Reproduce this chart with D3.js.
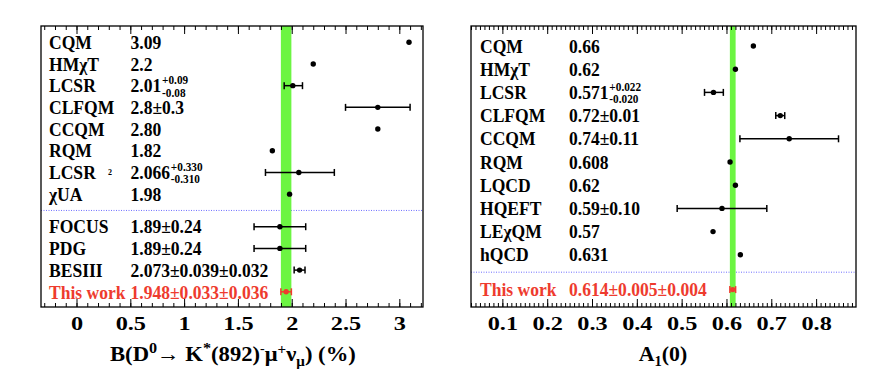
<!DOCTYPE html>
<html>
<head>
<meta charset="utf-8">
<script src="https://cdn.jsdelivr.net/npm/d3@7"></script>
<style>
  body { margin: 0; background: #fff; }
  text { font-family: "Liberation Serif", "Times New Roman", serif; font-weight: bold; }
</style>
</head>
<body>
<div id="chart"></div>
<script>
//left panel: branching fraction (%)
var leftTheoryNames = ["CQM", "HM\u03c7T", "LCSR", "CLFQM", "CCQM", "RQM", "LCSR", "\u03c7UA"];
var leftTheoryText  = ["3.09", "2.2", "2.01", "2.8\u00b10.3", "2.80", "1.82", "2.066", "1.98"];
var leftTheorySup   = ["", "", "+0.09", "", "", "", "+0.330", ""];
var leftTheorySub   = ["", "", "-0.08", "", "", "", "-0.310", ""];
var leftTheoryVal   = [3.09, 2.2, 2.01, 2.8, 2.80, 1.82, 2.066, 1.98];
var leftTheoryErrLo = [0, 0, 0.08, 0.3, 0, 0, 0.310, 0];
var leftTheoryErrHi = [0, 0, 0.09, 0.3, 0, 0, 0.330, 0];

var leftExpNames = ["FOCUS", "PDG", "BESIII", "This work"];
var leftExpText  = ["1.89\u00b10.24", "1.89\u00b10.24", "2.073\u00b10.039\u00b10.032", "1.948\u00b10.033\u00b10.036"];
var leftExpVal   = [1.89, 1.89, 2.073, 1.948];
var leftExpStat  = [0.24, 0.24, 0.039, 0.033];
var leftExpSyst  = [0, 0, 0.032, 0.036];

var leftTicks = [0, 0.5, 1, 1.5, 2, 2.5, 3];

//right panel: A1(0)
var rightTheoryNames = ["CQM", "HM\u03c7T", "LCSR", "CLFQM", "CCQM", "RQM", "LQCD", "HQEFT", "LE\u03c7QM", "hQCD"];
var rightTheoryText  = ["0.66", "0.62", "0.571", "0.72\u00b10.01", "0.74\u00b10.11", "0.608", "0.62", "0.59\u00b10.10", "0.57", "0.631"];
var rightTheorySup   = ["", "", "+0.022", "", "", "", "", "", "", ""];
var rightTheorySub   = ["", "", "-0.020", "", "", "", "", "", "", ""];
var rightTheoryVal   = [0.66, 0.62, 0.571, 0.72, 0.74, 0.608, 0.62, 0.59, 0.57, 0.631];
var rightTheoryErrLo = [0, 0, 0.020, 0.01, 0.11, 0, 0, 0.10, 0, 0];
var rightTheoryErrHi = [0, 0, 0.022, 0.01, 0.11, 0, 0, 0.10, 0, 0];

var rightExpNames = ["This work"];
var rightExpText  = ["0.614\u00b10.005\u00b10.004"];
var rightExpVal   = [0.614];
var rightExpStat  = [0.005];
var rightExpSyst  = [0.004];

var rightTicks = [0.1, 0.2, 0.3, 0.4, 0.5, 0.6, 0.7, 0.8];

var RED = "#ee3b2e";
var SQ = 0.9;   //horizontal squeeze of the label font

var svg = d3.select("#chart").append("svg")
  .attr("width", 870)
  .attr("height", 384);

function drawPanel(p) {
  var g = svg.append("g");
  var x = d3.scaleLinear().domain(p.xDomain).range([p.left, p.right]);
  var y = d3.scaleLinear().domain(p.yDomain).range([p.top, p.bottom]);
  var nT = p.names.length;

  //build rows: theory first, then experiments after a gap
  var rows = [];
  p.names.forEach(function(n, i) {
    rows.push({name: n, text: p.text[i], sup: p.sup[i], sub: p.sub[i], v: p.val[i],
      lo: p.errLo[i], hi: p.errHi[i], row: i, red: false});
  });
  p.expNames.forEach(function(n, i) {
    var e = Math.sqrt(p.expStat[i] * p.expStat[i] + p.expSyst[i] * p.expSyst[i]);
    rows.push({name: n, text: p.expText[i], sup: "", sub: "", v: p.expVal[i],
      lo: e, hi: e, row: nT + 0.5 + i, red: n === "This work"});
  });

  //dotted separator
  g.append("line")
    .attr("x1", p.left).attr("x2", p.right)
    .attr("y1", y(nT - 0.25)).attr("y2", y(nT - 0.25))
    .attr("stroke", "#6f6fff").attr("stroke-width", 1)
    .attr("stroke-dasharray", "1,1.5");

  //green band from this work
  var tw = rows[rows.length - 1];
  g.append("rect")
    .attr("x", x(tw.v - tw.lo))
    .attr("y", p.top)
    .attr("width", x(tw.v + tw.hi) - x(tw.v - tw.lo))
    .attr("height", p.bottom - p.top)
    .attr("fill", "#6cf542");

  //axes
  var major = d3.axisBottom(x).tickValues(p.ticks).tickSize(-8).tickPadding(10)
    .tickFormat(function(d) { return String(d); });
  var minorVals = d3.range(Math.ceil(p.xDomain[0] / p.minor), Math.floor(p.xDomain[1] / p.minor) + 1)
    .map(function(k) { return +(k * p.minor).toFixed(4); });
  var minorB = d3.axisBottom(x).tickValues(minorVals).tickSize(-4).tickFormat("");
  var majorT = d3.axisTop(x).tickValues(p.ticks).tickSize(-8).tickFormat("");
  var minorT = d3.axisTop(x).tickValues(minorVals).tickSize(-4).tickFormat("");

  [[minorB, p.bottom], [major, p.bottom], [minorT, p.top], [majorT, p.top]].forEach(function(a) {
    var ax = g.append("g").attr("transform", "translate(0," + a[1] + ")").call(a[0]);
    ax.select(".domain").remove();
    ax.selectAll("line").attr("stroke", "#000").attr("stroke-width", 1);
    ax.selectAll("text")
      .attr("font-size", 18)
      .attr("font-family", "Liberation Serif, serif")
      .attr("font-weight", "bold")
      .attr("fill", "#000")
      .attr("transform", "scale(1.35,1)");
  });

  //frame
  g.append("rect")
    .attr("x", p.left).attr("y", p.top)
    .attr("width", p.right - p.left).attr("height", p.bottom - p.top)
    .attr("fill", "none").attr("stroke", "#000").attr("stroke-width", 1.3);

  //error bars
  var bars = g.append("g").selectAll("g")
    .data(rows.filter(function(d) { return d.lo > 0 || d.hi > 0; }))
    .enter().append("g")
    .attr("stroke", function(d) { return d.red ? RED : "#000"; })
    .attr("stroke-width", 1.5);
  bars.append("line")
    .attr("x1", function(d) { return x(d.v - d.lo); })
    .attr("x2", function(d) { return x(d.v + d.hi); })
    .attr("y1", function(d) { return y(d.row); })
    .attr("y2", function(d) { return y(d.row); });
  bars.append("line")
    .attr("x1", function(d) { return x(d.v - d.lo); })
    .attr("x2", function(d) { return x(d.v - d.lo); })
    .attr("y1", function(d) { return y(d.row) - 3.5; })
    .attr("y2", function(d) { return y(d.row) + 3.5; });
  bars.append("line")
    .attr("x1", function(d) { return x(d.v + d.hi); })
    .attr("x2", function(d) { return x(d.v + d.hi); })
    .attr("y1", function(d) { return y(d.row) - 3.5; })
    .attr("y2", function(d) { return y(d.row) + 3.5; });

  //points
  g.append("g").selectAll("circle")
    .data(rows)
    .enter().append("circle")
    .attr("cx", function(d) { return x(d.v); })
    .attr("cy", function(d) { return y(d.row); })
    .attr("r", 2.7)
    .attr("fill", function(d) { return d.red ? RED : "#000"; });

  //labels: name and value, each in a squeezed group
  var lab = g.append("g").selectAll("g")
    .data(rows)
    .enter().append("g")
    .attr("fill", function(d) { return d.red ? RED : "#000"; });
  lab.append("g")
    .attr("transform", function(d) { return "translate(" + p.nameX + "," + (y(d.row) + 6.7) + ") scale(" + SQ + ",1)"; })
    .append("text")
    .attr("font-size", 19.5)
    .text(function(d) { return d.name; });
  var vt = lab.append("g")
    .attr("transform", function(d) { return "translate(" + p.valX + "," + (y(d.row) + 6.7) + ") scale(" + SQ + ",1)"; })
    .append("text")
    .attr("font-size", 19.5);
  vt.append("tspan").text(function(d) { return d.text; });
  //asymmetric errors go in the same text as super/subscript tspans
  vt.each(function(d) {
    if (!d.sup) return;
    var t = d3.select(this);
    var end = this.getComputedTextLength() + 1;
    t.append("tspan").attr("x", end).attr("y", -8.2)
      .attr("font-size", 12.5).text(d.sup);
    t.append("tspan").attr("x", end).attr("y", 4.3)
      .attr("font-size", 12.5).text(d.sub);
  });

  return {g: g, x: x, y: y};
}

var L = drawPanel({
  left: 41, right: 423, top: 26, bottom: 307,
  xDomain: [-0.33, 3.22], yDomain: [-0.75, 12.2],
  ticks: leftTicks, minor: 0.1,
  nameX: 49, valX: 130.5,
  names: leftTheoryNames, text: leftTheoryText, sup: leftTheorySup, sub: leftTheorySub,
  val: leftTheoryVal, errLo: leftTheoryErrLo, errHi: leftTheoryErrHi,
  expNames: leftExpNames, expText: leftExpText, expVal: leftExpVal,
  expStat: leftExpStat, expSyst: leftExpSyst
});

//little reference mark after the second LCSR
L.g.append("text")
  .attr("x", 108).attr("y", L.y(6) + 3)
  .attr("font-size", 8).text("2");

var R = drawPanel({
  left: 471, right: 856, top: 26, bottom: 307,
  xDomain: [0.03, 0.889], yDomain: [-0.862, 11.25],
  ticks: rightTicks, minor: 0.01,
  nameX: 480, valX: 569,
  names: rightTheoryNames, text: rightTheoryText, sup: rightTheorySup, sub: rightTheorySub,
  val: rightTheoryVal, errLo: rightTheoryErrLo, errHi: rightTheoryErrHi,
  expNames: rightExpNames, expText: rightExpText, expVal: rightExpVal,
  expStat: rightExpStat, expSyst: rightExpSyst
});

//axis titles, stretched to the width seen in the original
function axisTitle(cx, baseY, targetW, parts) {
  var outer = svg.append("g");
  var t = outer.append("text").attr("font-size", 21);
  parts.forEach(function(pt) {
    var s = t.append("tspan").text(pt[0]);
    if (pt[1]) s.attr("dy", pt[1]);
    if (pt[2]) s.attr("font-size", pt[2]);
  });
  var w = t.node().getComputedTextLength();
  outer.attr("transform", "translate(" + (cx - targetW / 2) + "," + baseY + ") scale(" + (targetW / w) + ",1)");
}

axisTitle(233, 361, 246, [
  ["B(D"], ["0", -8, 15], ["\u2192 K", 8], ["*", -8, 15], ["(892)", 8],
  ["-", -8, 13], ["\u03bc", 8], ["+", -7, 14], ["\u03bd", 7], ["\u03bc", 5, 14], [") (%)", -5]
]);
axisTitle(663, 361, 48.5, [["A"], ["1", 5, 14], ["(0)", -5]]);
</script>
</body>
</html>
